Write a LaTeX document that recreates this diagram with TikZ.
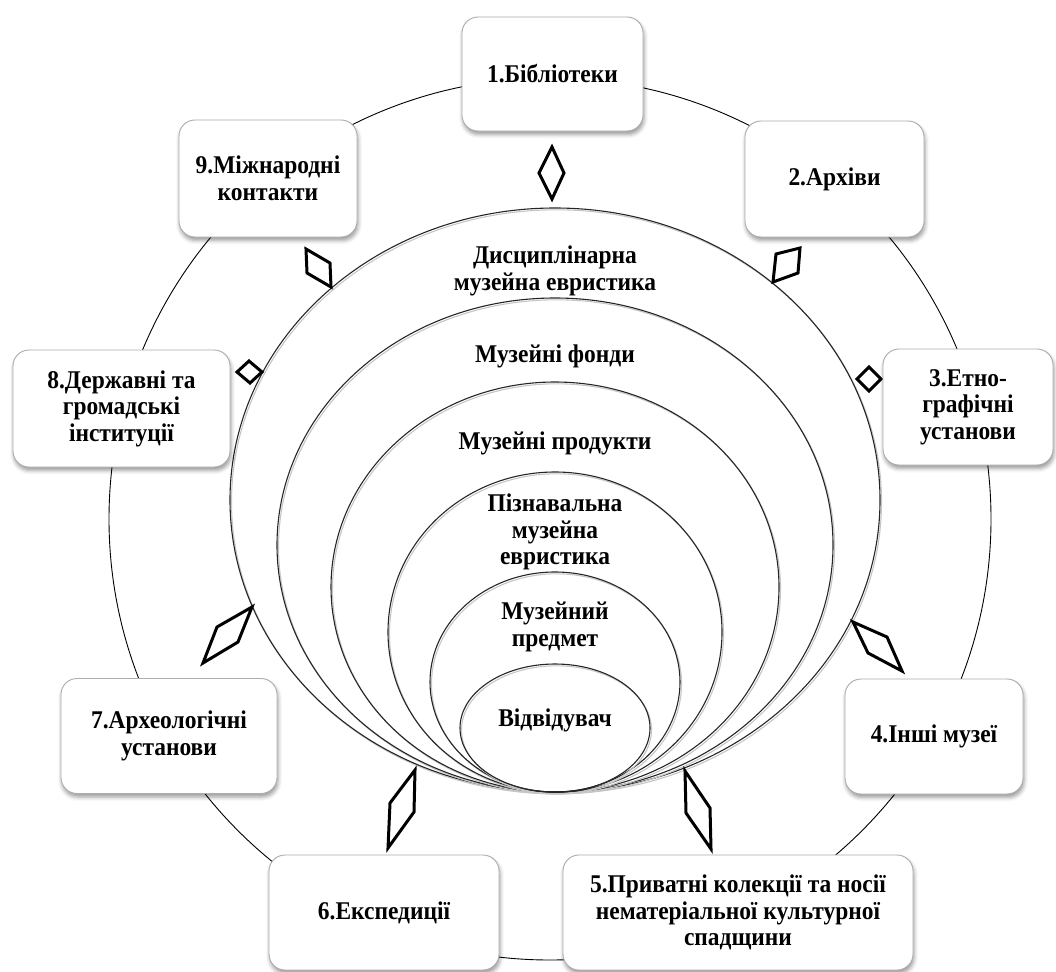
\documentclass[tikz,border=0pt]{standalone}
\usepackage{fontspec}
\setmainfont{Liberation Serif}[FakeStretch=0.92]
\usetikzlibrary{shadows.blur}
\begin{document}
\begin{tikzpicture}[x=1pt,y=-1pt,
  txt/.style={align=center, font=\fontsize{25.5}{26.5}\selectfont\bfseries, inner sep=0pt},
  box/.style={txt, rectangle, rounded corners=16pt, draw=gray!65, line width=0.9pt, fill=white,
    blur shadow={shadow xshift=1pt, shadow yshift=-3.5pt, shadow blur radius=4pt, shadow opacity=40}},
  ring/.style={draw=black, line width=0.9pt},
  oval/.style={draw=black!85, line width=1.1pt},
  ovalsh/.style={draw=gray!45, line width=1.1pt},
  diam/.style={draw=black, line width=3pt, fill=white, line join=miter}]
\useasboundingbox (0,0) rectangle (1056,971);
% outer ring
\node[ring, circle, minimum size=882pt, inner sep=0pt] (ringc) at (550,519) {};
% nested ovals (all tangent at the bottom)
\foreach \cy/\rx/\ry in {500/325/292, 545/278/247, 587/224/205, 632/167/160, 682/125/110, 728/95/64}{
  \draw[ovalsh] (556.5,\cy+1.8) ellipse [x radius=\rx pt, y radius=\ry pt];
  \draw[oval] (555,\cy) ellipse [x radius=\rx pt, y radius=\ry pt];
}
% oval labels
\node[txt] (l1) at (555,271) {Дисциплінарна\\музейна евристика};
\node[txt] (l2) at (555,356) {Музейні фонди};
\node[txt] (l3) at (555,443) {Музейні продукти};
\node[txt] (l4) at (555,532) {Пізнавальна\\музейна\\евристика};
\node[txt] (l5) at (555,627) {Музейний\\предмет};
\node[txt] (l6) at (555,720) {Відвідувач};
% rhombi
\draw[diam] (552,147) -- (564,173) -- (552,199) -- (539,173) -- cycle;
\draw[diam] (776,254) -- (800,248) -- (798,273) -- (773,282) -- cycle;
\draw[diam] (869,367) -- (881,379) -- (869,391) -- (857,379) -- cycle;
\draw[diam] (853,622) -- (887,637) -- (902,671) -- (868,653) -- cycle;
\draw[diam] (685,771) -- (710,808) -- (711,849) -- (686,813) -- cycle;
\draw[diam] (415,770) -- (414,812) -- (388,848) -- (390,803) -- cycle;
\draw[diam] (252,607) -- (238,642) -- (203,663) -- (217,627) -- cycle;
\draw[diam] (249,361) -- (262,372) -- (250,383) -- (237,372) -- cycle;
\draw[diam] (306,249) -- (330,263) -- (331,287) -- (307,273) -- cycle;
% boxes
\node[box, minimum width=181pt, minimum height=114pt] (b1) at (552.5,74) {1.Бібліотеки};
\node[box, minimum width=179pt, minimum height=116pt] (b2) at (834.5,179) {2.Архіви};
\node[box, minimum width=170pt, minimum height=116pt] (b3) at (968,407) {3.Етно-\\графічні\\установи};
\node[box, minimum width=178pt, minimum height=115pt] (b4) at (934,736.5) {4.Інші музеї};
\node[box, minimum width=350pt, minimum height=115pt] (b5) at (738,912.5) {5.Приватні колекції та носії\\нематеріальної культурної\\спадщини};
\node[box, minimum width=230pt, minimum height=115pt] (b6) at (384,912.5) {6.Експедиції};
\node[box, minimum width=216pt, minimum height=115pt] (b7) at (169,736) {7.Археологічні\\установи};
\node[box, minimum width=217pt, minimum height=117pt] (b8) at (121.5,408.5) {8.Державні та\\громадські\\інституції};
\node[box, minimum width=178pt, minimum height=117pt] (b9) at (268,178.5) {9.Міжнародні\\контакти};
\end{tikzpicture}
\end{document}
